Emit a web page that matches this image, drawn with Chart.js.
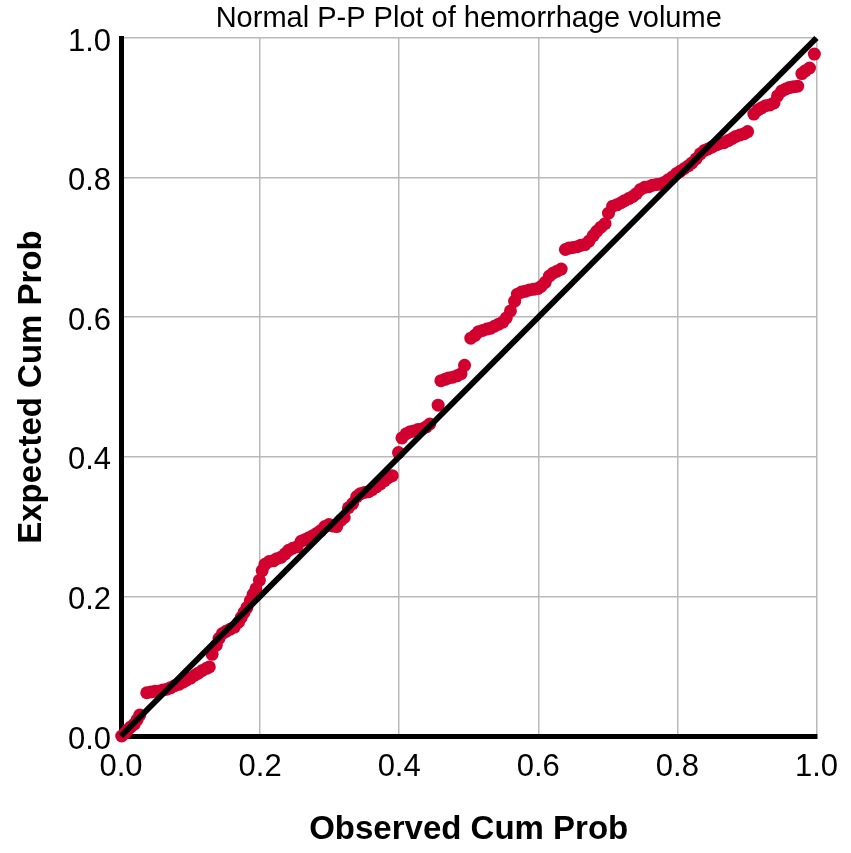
<!DOCTYPE html>
<html>
<head>
<meta charset="utf-8">
<script src="https://cdn.jsdelivr.net/npm/chart.js@4.4.1/dist/chart.umd.min.js"></script>
<style>
  html, body { margin: 0; padding: 0; background: #fff; }
  #chart { display: block; }
</style>
</head>
<body>
<canvas id="chart" width="851" height="853"></canvas>
<script>
// Observed cumulative probability (x) and expected cumulative probability (y)
const observed = [
  0.001, 0.006, 0.010, 0.014, 0.019, 0.023, 0.027,
  0.037, 0.043, 0.049, 0.054, 0.060, 0.066, 0.071, 0.077, 0.083, 0.089, 0.094, 0.100, 0.106, 0.111, 0.117, 0.123, 0.127,
  0.131, 0.137, 0.141, 0.146, 0.151, 0.157, 0.163, 0.169, 0.173, 0.177, 0.181, 0.186, 0.190, 0.194, 0.199,
  0.203, 0.207, 0.213, 0.219, 0.224, 0.230, 0.236, 0.241, 0.247, 0.253, 0.259, 0.264, 0.270, 0.276, 0.281, 0.287,
  0.293, 0.299, 0.304, 0.310, 0.316, 0.321, 0.327, 0.333, 0.339, 0.344, 0.350, 0.356, 0.361, 0.367, 0.373, 0.379,
  0.384, 0.390,
  0.399, 0.404, 0.410, 0.416, 0.421, 0.427, 0.433, 0.439, 0.444, 0.456,
  0.460, 0.466, 0.471, 0.477, 0.483, 0.489, 0.494,
  0.503, 0.509, 0.514, 0.520, 0.526, 0.531, 0.537, 0.543, 0.549, 0.554, 0.560, 0.566, 0.570, 0.576, 0.581, 0.587,
  0.593, 0.599, 0.604, 0.610, 0.616, 0.621, 0.627, 0.633,
  0.639, 0.644, 0.650, 0.656, 0.661, 0.667, 0.673, 0.679, 0.684, 0.690, 0.696, 0.701, 0.707, 0.713, 0.719, 0.724,
  0.730, 0.736, 0.741, 0.747, 0.753, 0.759, 0.764, 0.770, 0.776, 0.781, 0.787, 0.793, 0.799, 0.804, 0.810, 0.816,
  0.821, 0.827, 0.833, 0.839, 0.844, 0.850, 0.856, 0.861, 0.867, 0.873, 0.879, 0.884, 0.890, 0.896, 0.901,
  0.910, 0.916, 0.921, 0.927, 0.933, 0.939, 0.944, 0.950, 0.956, 0.961, 0.967, 0.973, 0.979, 0.984, 0.990, 0.997
];
const expected = [
  0.000, 0.004, 0.009, 0.013, 0.017, 0.023, 0.030,
  0.062, 0.063, 0.064, 0.064, 0.066, 0.067, 0.069, 0.072, 0.074, 0.077, 0.080, 0.083, 0.087, 0.090, 0.094, 0.097, 0.099,
  0.117, 0.130, 0.140, 0.147, 0.150, 0.153, 0.156, 0.163, 0.170, 0.177, 0.184, 0.194, 0.203, 0.211, 0.223,
  0.237, 0.246, 0.250, 0.251, 0.254, 0.256, 0.261, 0.266, 0.269, 0.271, 0.279, 0.281, 0.284, 0.287, 0.290, 0.294,
  0.300, 0.303, 0.301, 0.300, 0.309, 0.313, 0.327, 0.333, 0.343, 0.347, 0.349, 0.350, 0.353, 0.357, 0.361, 0.366,
  0.370, 0.373,
  0.406, 0.427, 0.433, 0.436, 0.437, 0.439, 0.440, 0.443, 0.447, 0.474,
  0.509, 0.511, 0.513, 0.514, 0.516, 0.519, 0.531,
  0.570, 0.574, 0.579, 0.581, 0.583, 0.584, 0.587, 0.590, 0.593, 0.599, 0.609, 0.623, 0.633, 0.636, 0.637, 0.639,
  0.640, 0.641, 0.644, 0.650, 0.659, 0.663, 0.666, 0.669,
  0.697, 0.699, 0.700, 0.701, 0.703, 0.704, 0.709, 0.717, 0.723, 0.729, 0.734, 0.749, 0.759, 0.761, 0.764, 0.767,
  0.770, 0.773, 0.777, 0.783, 0.786, 0.787, 0.789, 0.790, 0.791, 0.793, 0.797, 0.801, 0.806, 0.809, 0.813, 0.817,
  0.821, 0.827, 0.834, 0.839, 0.841, 0.844, 0.847, 0.849, 0.850, 0.853, 0.856, 0.859, 0.861, 0.863, 0.866,
  0.891, 0.897, 0.900, 0.903, 0.904, 0.907, 0.917, 0.924, 0.927, 0.929, 0.930, 0.931, 0.949, 0.953, 0.957, 0.977
];
// Reference diagonal
const diagonalX = [0, 1];
const diagonalY = [0, 1];

const ticks = [0, 0.2, 0.4, 0.6, 0.8, 1.0];

const FONT = "'Liberation Sans', Arial, Helvetica, sans-serif";

const points = observed.map((x, i) => ({ x: x, y: expected[i] }));
const diagonal = diagonalX.map((x, i) => ({ x: x, y: diagonalY[i] }));

new Chart(document.getElementById("chart"), {
  type: "scatter",
  data: {
    datasets: [
      {
        type: "line",
        data: diagonal,
        borderColor: "#000",
        borderWidth: 6,
        pointRadius: 0,
        fill: false,
        order: 0,
        clip: false,
      },
      {
        data: points,
        backgroundColor: "#d2002f",
        borderWidth: 0,
        pointRadius: 6.5,
        pointHoverRadius: 6.5,
        order: 1,
        clip: false,
      },
    ],
  },
  options: {
    responsive: false,
    animation: false,
    layout: {
      padding: { left: 0, right: 30, top: 0, bottom: 0 },
    },
    plugins: {
      legend: { display: false },
      tooltip: { enabled: false },
      title: {
        display: true,
        fullSize: false,
        text: "Normal P-P Plot of hemorrhage volume",
        color: "#000",
        font: { family: FONT, size: 29, weight: "normal" },
        padding: { top: 2, bottom: 1.2 },
      },
    },
    scales: {
      x: {
        type: "linear",
        min: 0,
        max: 1,
        afterBuildTicks: (scale) => {
          scale.ticks = ticks.map((v) => ({ value: v }));
        },
        afterFit: (scale) => {
          scale.height = 117;
        },
        ticks: {
          color: "#000",
          padding: 13,
          font: { family: FONT, size: 31 },
          callback: (v) => Number(v).toFixed(1),
        },
        grid: {
          color: "#b9b9b9",
          lineWidth: 1.5,
          drawTicks: false,
        },
        border: { color: "#000", width: 5 },
        title: {
          display: true,
          text: "Observed Cum Prob",
          color: "#000",
          font: { family: FONT, size: 33, weight: "bold" },
          padding: { top: 3, bottom: 3 },
        },
      },
      y: {
        type: "linear",
        min: 0,
        max: 1,
        afterBuildTicks: (scale) => {
          scale.ticks = ticks.map((v) => ({ value: v }));
        },
        afterFit: (scale) => {
          scale.width = 121;
        },
        ticks: {
          color: "#000",
          padding: 10,
          labelOffset: 4,
          font: { family: FONT, size: 31 },
          callback: (v) => Number(v).toFixed(1),
        },
        grid: {
          color: "#b9b9b9",
          lineWidth: 1.5,
          drawTicks: false,
        },
        border: { color: "#000", width: 5 },
        title: {
          display: true,
          text: "Expected Cum Prob",
          color: "#000",
          font: { family: FONT, size: 33, weight: "bold" },
          padding: { top: 12, bottom: 12 },
        },
      },
    },
  },
});
</script>
</body>
</html>
